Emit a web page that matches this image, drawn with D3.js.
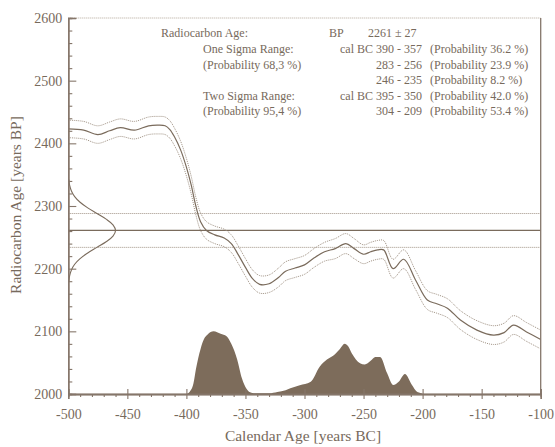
<!DOCTYPE html>
<html><head><meta charset="utf-8">
<script src="https://cdn.jsdelivr.net/npm/d3@7"></script>
<style>
html,body{margin:0;padding:0;background:#fff;}
text{font-family:"Liberation Serif","Times New Roman",serif;}
</style></head>
<body><svg id="c" width="555" height="447"></svg>
<script>
// ---- data ----
const xDomain = [-500, -100];
const yDomain = [2000, 2600];
const xMajorTicks = [-500, -450, -400, -350, -300, -250, -200, -150, -100];
const yMajorTicks = [2000, 2100, 2200, 2300, 2400, 2500, 2600];

// calibration curve (cal BC year, BP, 1-sigma)
const calYears = [-500,-487,-475,-465,-456,-444,-432,-424,-418,-414,-410,-405,-400,-396,-392,-388,-383,-376,-368,-362,-356,-350,-344,-338,-330,-322,-316,-308,-300,-292,-283,-274,-265,-258,-250,-244,-238,-233,-225,-216,-206,-196,-188,-179,-168,-154,-140,-131,-123,-112,-100];
const calBP    = [2423,2421,2414,2420,2425,2421,2428,2429,2428,2422,2410,2390,2362,2334,2300,2275,2261,2254,2249,2240,2222,2202,2184,2175,2176,2186,2196,2201,2206,2217,2227,2232,2240,2232,2223,2227,2230,2230,2200,2215,2182,2150,2144,2137,2118,2102,2094,2098,2110,2099,2087];
const calErr   = [14,14,14,14,14,14,14,14,14,14,14,14,14,14,14,14,14,14,14,14,14,14,14,14,14,15,15,15,15,15,15,16,16,16,15,15,15,15,15,15,15,15,15,15,15,15,15,15,15,15,15];

// measurement
const bpMean = 2261;
const bpSigma = 27;
const gaussAges = [2180,2189,2198,2207,2216,2225,2234,2243,2252,2261,2270,2279,2288,2297,2306,2315,2324,2333,2342];
const gaussDens = [0.011,0.029,0.066,0.135,0.249,0.411,0.607,0.801,0.946,1,0.946,0.801,0.607,0.411,0.249,0.135,0.066,0.029,0.011];

// calibrated probability distribution (relative)
const probYears = [-400,-397,-394,-392,-388,-385,-382,-377,-371,-366,-362,-357,-353,-349,-345,-340,-330,-323,-316,-312,-304,-295,-287,-281,-274,-270,-266,-263,-260,-253,-249,-244,-240,-236,-230,-225,-220,-215,-209,-205,-201,-200];
const probVals  = [0,0.04,0.17,0.39,0.72,0.88,0.95,1.0,0.96,0.92,0.80,0.55,0.25,0.08,0.02,0.01,0.01,0.03,0.06,0.09,0.14,0.19,0.44,0.55,0.64,0.72,0.80,0.76,0.65,0.49,0.47,0.53,0.59,0.59,0.33,0.145,0.20,0.32,0.145,0.04,0.01,0];

// text block
const infoLeft   = ["Radiocarbon Age:", "One Sigma Range:", "(Probability 68,3 %)", "", "Two Sigma Range:", "(Probability 95,4 %)"];
const infoMid    = ["", "cal BC 390 - 357", "283 - 256", "246 - 235", "cal BC 395 - 350", "304 - 209"];
const infoRight  = ["", "(Probability 36.2 %)", "(Probability 23.9 %)", "(Probability 8.2 %)", "(Probability 42.0 %)", "(Probability 53.4 %)"];
const xTitle = "Calendar Age [years BC]";
const yTitle = "Radiocarbon Age [years BP]";

// ---- drawing ----
const svg = d3.select("#c");
const L = 68.3, R = 540.7, T = 18, B = 394;
const x = d3.scaleLinear(xDomain, [L, R]);
const y = d3.scaleLinear(yDomain, [B, T]);
const gx = d3.scaleLinear([0, 1], [x(-500), x(-460)]);
const yp = d3.scaleLinear([0, 1], [y(2000), y(2100)]);

const axisCol = "#85766a", textCol = "#776a5c", lineCol = "#7a6b5c", dotCol = "#a09284", fillCol = "#7d6c5b";

// distribution
const area = d3.area().x((d,i)=>x(probYears[i])).y0(yp(0)).y1((d,i)=>yp(d)).curve(d3.curveMonotoneX);
svg.append("path").attr("d", area(probVals)).attr("fill", fillCol);

// horizontal measurement lines
svg.append("line").attr("x1", x(-500)).attr("x2", x(-100)).attr("y1", y(bpMean)).attr("y2", y(bpMean))
  .attr("stroke", lineCol).attr("stroke-width", 1.2);
[bpMean + bpSigma, bpMean - bpSigma].forEach(v => {
  svg.append("line").attr("x1", x(-500)).attr("x2", x(-100)).attr("y1", y(v)).attr("y2", y(v))
    .attr("stroke", dotCol).attr("stroke-width", 1).attr("stroke-dasharray", "1,1");
});

// calibration curve
const idx = d3.range(calYears.length);
const ln = off => d3.line().x(i=>x(calYears[i])).y(i=>y(calBP[i] + off*calErr[i])).curve(d3.curveCatmullRom.alpha(0.5));
svg.append("path").attr("d", ln(0)(idx)).attr("fill","none").attr("stroke", lineCol).attr("stroke-width", 1.2);
[1,-1].forEach(o => svg.append("path").attr("d", ln(o)(idx)).attr("fill","none")
  .attr("stroke", dotCol).attr("stroke-width", 1).attr("stroke-dasharray","1,1"));

// gaussian
const gl = d3.line().x((d,i)=>gx(d)).y((d,i)=>y(gaussAges[i])).curve(d3.curveCatmullRom);
svg.append("path").attr("d", gl(gaussDens)).attr("fill","none").attr("stroke", lineCol).attr("stroke-width", 1.1);

// frame
svg.append("line").attr("x1", L).attr("x2", R).attr("y1", T).attr("y2", T)
  .attr("stroke", "#b3a698").attr("stroke-dasharray", "1,1");
svg.append("line").attr("x1", R).attr("x2", R).attr("y1", T).attr("y2", B).attr("stroke", axisCol).attr("stroke-width", 1.3);

// axes
function styleAxis(g){ g.select(".domain").attr("stroke", axisCol).attr("stroke-width", 1.4);
  g.selectAll(".tick line").attr("stroke", axisCol).attr("stroke-width", 1.1);
  g.selectAll("text").attr("fill", textCol).attr("font-size", "14px").attr("font-family", "Liberation Serif, serif"); }

const yMinor = d3.range(2000, 2601, 20).filter(v => v % 100 !== 0);
svg.append("g").attr("transform", `translate(${L},0)`)
  .call(d3.axisLeft(y).tickValues(yMinor).tickSize(-4).tickFormat(""))
  .call(styleAxis);
svg.append("g").attr("transform", `translate(${L},0)`)
  .call(d3.axisLeft(y).tickValues(yMajorTicks).tickSize(-8).tickPadding(14).tickFormat(d=>String(d)))
  .call(styleAxis)
  .call(g => g.selectAll("text").attr("x", -6));

const xMinor = d3.range(-500, -99, 10).filter(v => v % 50 !== 0);
svg.append("g").attr("transform", `translate(0,${B})`)
  .call(d3.axisBottom(x).tickValues(xMinor).tickSize(3).tickFormat(""))
  .call(styleAxis);
svg.append("g").attr("transform", `translate(0,${B})`)
  .call(d3.axisBottom(x).tickValues(xMajorTicks).tickSize(-5).tickFormat(""))
  .call(styleAxis);
svg.append("g").attr("transform", `translate(0,${B})`)
  .call(d3.axisBottom(x).tickValues(xMajorTicks).tickSize(5).tickPadding(10).tickFormat(d=>String(d)))
  .call(styleAxis);

// titles
svg.append("text").attr("x", 303).attr("y", 441).attr("text-anchor","middle")
  .attr("font-size","15.5px").attr("fill", textCol).text(xTitle);
svg.append("text").attr("transform","translate(21,205) rotate(-90)").attr("text-anchor","middle")
  .attr("font-size","15.5px").attr("fill", textCol).text(yTitle);

// info block
const rowY = [37.3, 53.3, 68.5, 84, 99.7, 115.3];
const info = svg.append("g").attr("font-size","12px").attr("fill", textCol);
info.append("text").attr("x", 161).attr("y", rowY[0]).text(infoLeft[0]);
info.append("text").attr("x", 329).attr("y", rowY[0]).text("BP");
info.append("text").attr("x", 368).attr("y", rowY[0]).text(`${bpMean} \u00b1 ${bpSigma}`);
for (let i = 1; i < rowY.length; i++) {
  info.append("text").attr("x", 203).attr("y", rowY[i]).text(infoLeft[i]);
  info.append("text").attr("x", 422).attr("y", rowY[i]).attr("text-anchor","end").text(infoMid[i]);
  info.append("text").attr("x", 430).attr("y", rowY[i]).text(infoRight[i]);
}
</script></body></html>
